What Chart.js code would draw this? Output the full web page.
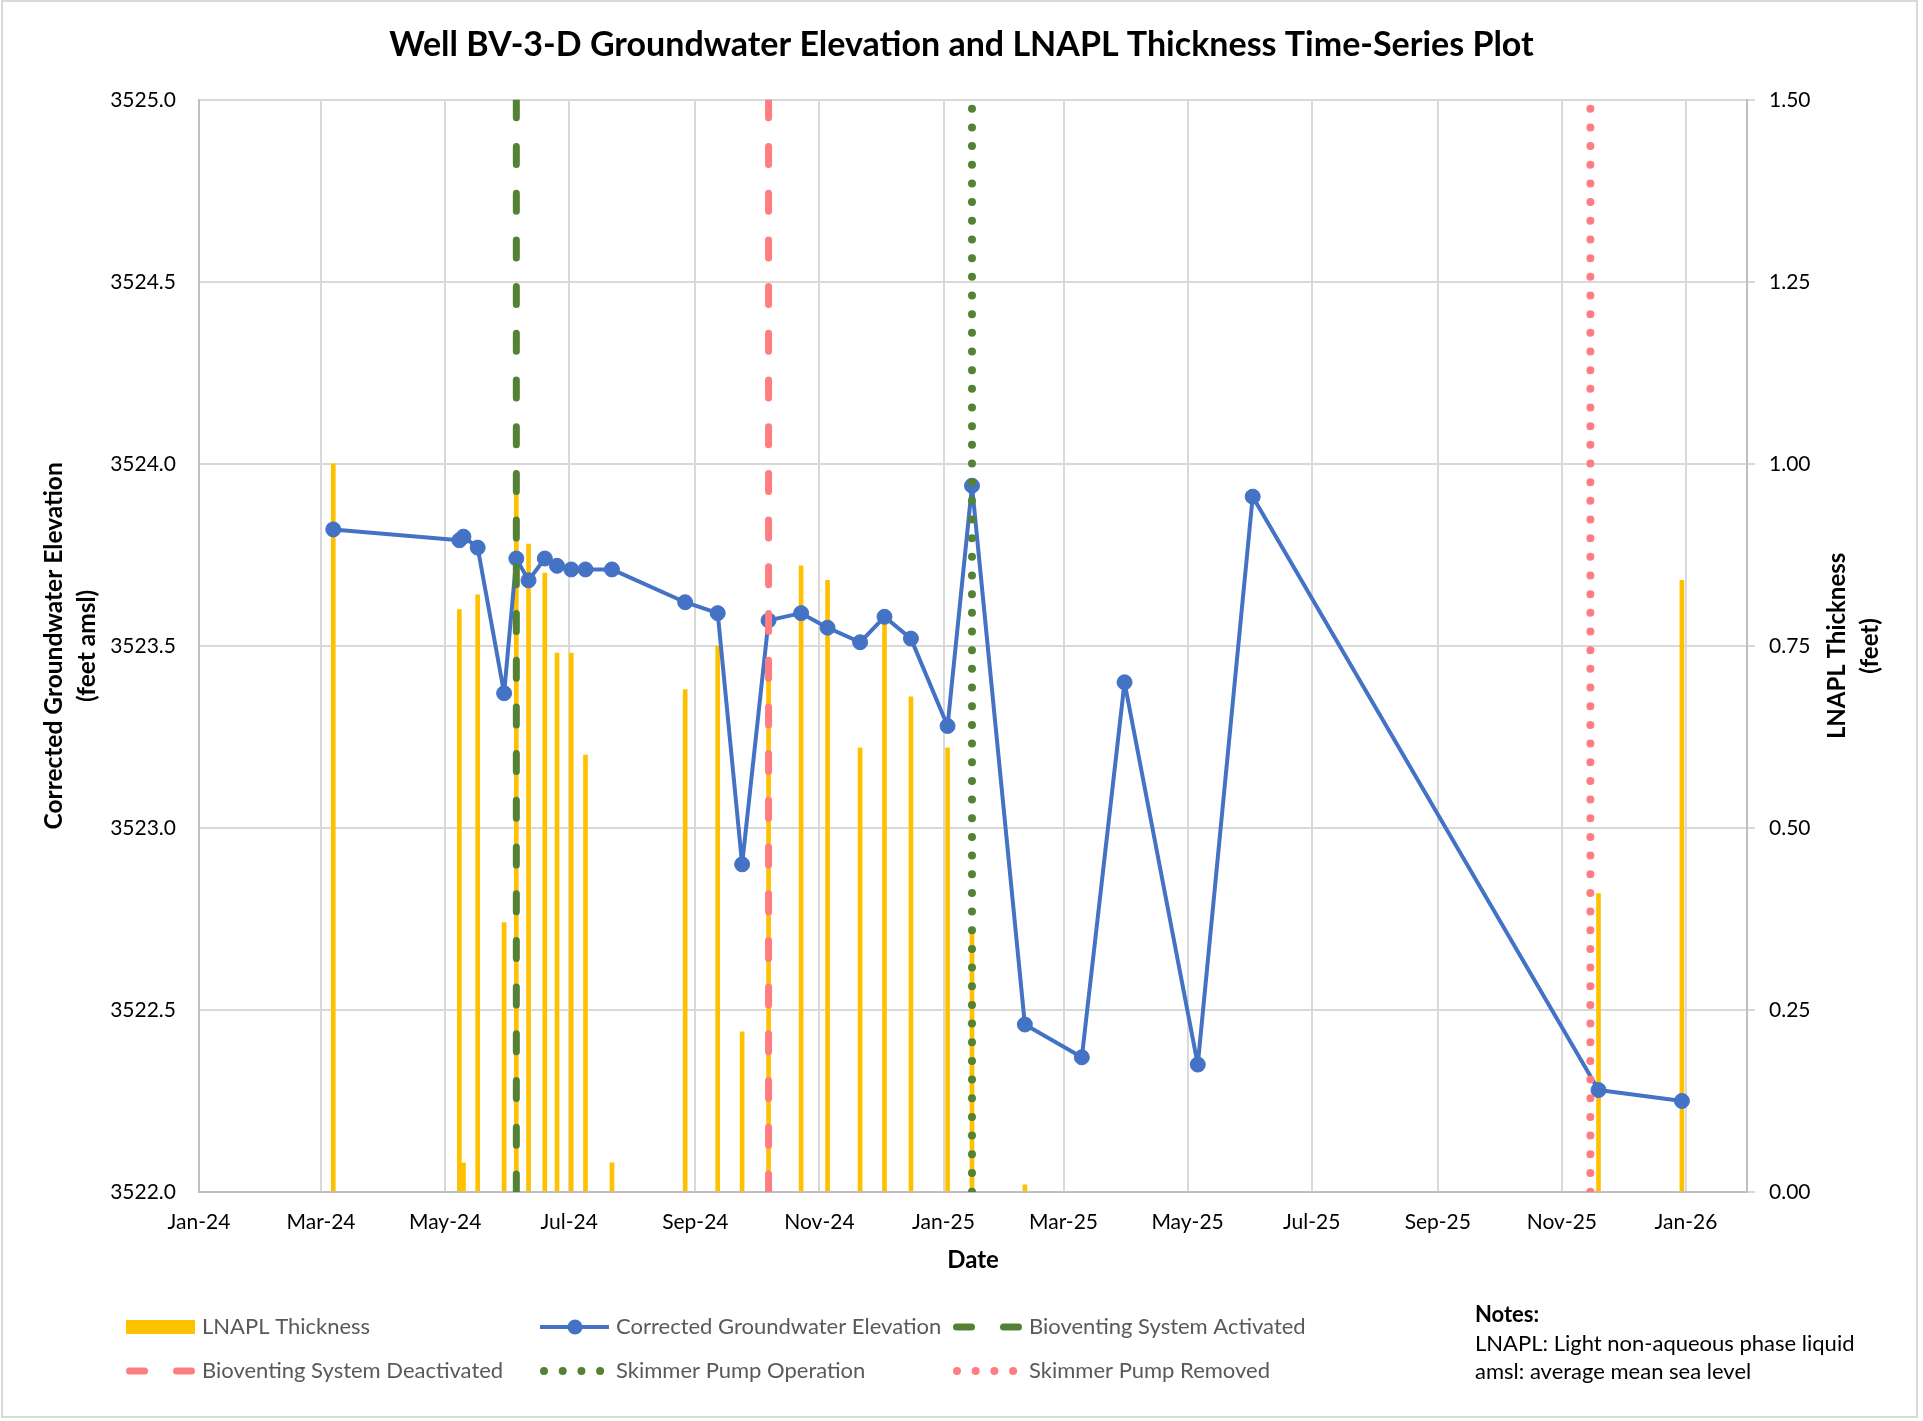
<!DOCTYPE html>
<html>
<head>
<meta charset="utf-8">
<title>Well BV-3-D Groundwater Elevation and LNAPL Thickness</title>
<script src="https://cdn.jsdelivr.net/npm/chart.js@4.4.1/dist/chart.umd.min.js"></script>
<style>
  html, body { margin: 0; padding: 0; background: #fff; }
  #wrap { position: relative; width: 1923px; height: 1421px; }
</style>
</head>
<body>
<div id="wrap"><canvas id="plot"></canvas></div>
<script>
// gauging dates, shared by both series
const sampleDates = [
    '2024-03-07', '2024-05-08', '2024-05-10', '2024-05-17', '2024-05-30',
    '2024-06-05', '2024-06-11', '2024-06-19', '2024-06-25', '2024-07-02',
    '2024-07-09', '2024-07-22', '2024-08-27', '2024-09-12', '2024-09-24',
    '2024-10-07', '2024-10-23', '2024-11-05', '2024-11-21', '2024-12-03',
    '2024-12-16', '2025-01-03', '2025-01-15', '2025-02-10', '2025-03-10',
    '2025-03-31', '2025-05-06', '2025-06-02', '2025-11-19', '2025-12-30'
]

// corrected groundwater elevation (feet amsl)
const gwElevation = [
    3523.82, 3523.79, 3523.80, 3523.77, 3523.37,
    3523.74, 3523.68, 3523.74, 3523.72, 3523.71,
    3523.71, 3523.71, 3523.62, 3523.59, 3522.90,
    3523.57, 3523.59, 3523.55, 3523.51, 3523.58,
    3523.52, 3523.28, 3523.94, 3522.46, 3522.37,
    3523.40, 3522.35, 3523.91, 3522.28, 3522.25
]

// LNAPL thickness (feet), null where no product was gauged
const lnaplThickness = [
    1.00, 0.80, 0.04, 0.82, 0.37,
    0.97, 0.89, 0.85, 0.74, 0.74,
    0.60, 0.04, 0.69, 0.75, 0.22,
    0.72, 0.86, 0.84, 0.61, 0.79,
    0.68, 0.61, 0.36, 0.01, null,
    null, null, null, 0.41, 0.84
]

// system events
const bioventOn = '2024-06-05'
const bioventOff = '2024-10-07'
const skimmerOn = '2025-01-15'
const skimmerOff = '2025-11-15'

// axes
const xMin = '2024-01-01'
const xMax = '2026-01-31'
const xTickDates = [
    '2024-01-01', '2024-03-01', '2024-05-01', '2024-07-01', '2024-09-01', '2024-11-01',
    '2025-01-01', '2025-03-01', '2025-05-01', '2025-07-01', '2025-09-01', '2025-11-01',
    '2026-01-01'
]
const monthAbbr = ['Jan', 'Feb', 'Mar', 'Apr', 'May', 'Jun', 'Jul', 'Aug', 'Sep', 'Oct', 'Nov', 'Dec']
const elevRange = [3522, 3525, 0.5]
const thickRange = [0, 1.5, 0.25]

const notes = ['LNAPL: Light non-aqueous phase liquid', 'amsl: average mean sea level']

const toMs = s => Date.parse(s + 'T00:00:00Z')
const fmtMonth = ms => {
    let d = new Date(ms)
    return monthAbbr[d.getUTCMonth()] + '-' + String(d.getUTCFullYear()).slice(2)
}

const FONT = 'Lato'

function eventLine(label, date, color, dash, dashOffset, width) {
    return {
        type: 'line',
        label: label,
        data: [{ x: toMs(date), y: elevRange[1] }, { x: toMs(date), y: elevRange[0] }],
        yAxisID: 'y',
        borderColor: color,
        backgroundColor: color,
        borderWidth: width,
        borderDash: dash,
        borderDashOffset: dashOffset,
        borderCapStyle: 'round',
        pointRadius: 0,
        pointHoverRadius: 0,
        fill: false,
        order: 1
    }
}

// white page + thin frame
const framePlugin = {
    id: 'frame',
    beforeDraw(chart) {
        let ctx = chart.ctx
        ctx.save()
        ctx.fillStyle = '#fff'
        ctx.fillRect(0, 0, chart.width, chart.height)
        ctx.strokeStyle = '#d9d9d9'
        ctx.lineWidth = 2
        ctx.strokeRect(2, 1, 1915, 1416)
        ctx.restore()
    }
}

// right axis title reads bottom-to-top like the left one
const rightTitlePlugin = {
    id: 'rightTitle',
    afterDraw(chart) {
        let ctx = chart.ctx
        let a = chart.chartArea
        ctx.save()
        ctx.translate(1837, (a.top + a.bottom) / 2)
        ctx.rotate(-Math.PI / 2)
        ctx.font = 'bold 24px ' + FONT
        ctx.fillStyle = '#000'
        ctx.textAlign = 'center'
        ctx.textBaseline = 'middle'
        ctx.fillText('LNAPL Thickness', 0, 0)
        ctx.fillText('(feet)', 0, 33)
        ctx.restore()
    }
}

// three-column legend below the axis, plus the notes block
const legendSlots = [[126, 1327], [540, 1327], [953, 1327], [126, 1371], [540, 1371], [953, 1371]]

const legendPlugin = {
    id: 'gridLegend',
    afterDraw(chart) {
        let ctx = chart.ctx
        chart.data.datasets.forEach((ds, i) => {
            let [x, y] = legendSlots[i]
            ctx.save()
            if (ds.type === 'bar') {
                ctx.fillStyle = ds.backgroundColor
                ctx.fillRect(x, y - 7, 69, 14)
            } else if (ds.pointRadius > 0) {
                ctx.strokeStyle = ds.borderColor
                ctx.lineWidth = ds.borderWidth
                ctx.beginPath()
                ctx.moveTo(x, y)
                ctx.lineTo(x + 69, y)
                ctx.stroke()
                ctx.fillStyle = ds.backgroundColor
                ctx.beginPath()
                ctx.arc(x + 35, y, ds.pointRadius, 0, Math.PI * 2)
                ctx.fill()
            } else {
                ctx.strokeStyle = ds.borderColor
                ctx.lineWidth = ds.borderWidth
                ctx.lineCap = 'round'
                ctx.beginPath()
                if (ds.borderDash[0] === 0) {
                    ctx.setLineDash([0, 18.7])
                    ctx.moveTo(x + 4, y)
                    ctx.lineTo(x + 61, y)
                } else {
                    ctx.setLineDash([15, 32])
                    ctx.moveTo(x + 3.5, y)
                    ctx.lineTo(x + 65.5, y)
                }
                ctx.stroke()
            }
            ctx.setLineDash([])
            ctx.fillStyle = '#595959'
            ctx.font = '22px ' + FONT
            ctx.textAlign = 'left'
            ctx.textBaseline = 'middle'
            ctx.fillText(ds.label, x + 76, y)
            ctx.restore()
        })

        ctx.save()
        ctx.fillStyle = '#000'
        ctx.textAlign = 'left'
        ctx.textBaseline = 'middle'
        ctx.font = 'bold 22px ' + FONT
        ctx.fillText('Notes:', 1475, 1315)
        ctx.font = '22px ' + FONT
        notes.forEach((n, i) => ctx.fillText(n, 1475, 1344 + i * 28))
        ctx.restore()
    }
}

const tickFont = { family: FONT, size: 21 }

let chart = new Chart(document.getElementById('plot').getContext('2d'), {
    type: 'line',
    data: {
        datasets: [
            {
                type: 'bar',
                label: 'LNAPL Thickness',
                data: sampleDates.map((d, i) => ({ x: toMs(d), y: lnaplThickness[i] })),
                yAxisID: 'y2',
                backgroundColor: '#FFC000',
                barThickness: 4,
                order: 3
            },
            {
                type: 'line',
                label: 'Corrected Groundwater Elevation',
                data: sampleDates.map((d, i) => ({ x: toMs(d), y: gwElevation[i] })),
                yAxisID: 'y',
                borderColor: '#4472C4',
                backgroundColor: '#4472C4',
                borderWidth: 4,
                borderJoinStyle: 'round',
                pointRadius: 7.5,
                pointHoverRadius: 7.5,
                pointBorderWidth: 1,
                tension: 0,
                order: 2
            },
            eventLine('Bioventing System Activated', bioventOn, '#548235', [18, 28.7], 0, 7),
            eventLine('Bioventing System Deactivated', bioventOff, '#FF7C80', [18, 28.7], 0, 7),
            eventLine('Skimmer Pump Operation', skimmerOn, '#548235', [0, 18.67], 9.7, 8),
            eventLine('Skimmer Pump Removed', skimmerOff, '#FF7C80', [0, 18.67], 9.7, 8)
        ]
    },
    options: {
        responsive: true,
        maintainAspectRatio: false,
        animation: false,
        layout: { padding: { left: 0, right: 0, top: 0, bottom: 130 } },
        plugins: {
            legend: { display: false },
            tooltip: { enabled: false },
            title: {
                display: true,
                text: 'Well BV-3-D Groundwater Elevation and LNAPL Thickness Time-Series Plot',
                color: '#000',
                font: { family: FONT, size: 34, weight: 'bold' },
                padding: { top: 25, bottom: 34 }
            }
        },
        scales: {
            x: {
                type: 'linear',
                min: toMs(xMin),
                max: toMs(xMax),
                offset: false,
                afterBuildTicks: s => { s.ticks = xTickDates.map(d => ({ value: toMs(d) })) },
                afterFit: s => { s.height = 99 },
                ticks: {
                    callback: v => fmtMonth(v),
                    font: tickFont,
                    color: '#000',
                    padding: 18,
                    maxRotation: 0,
                    autoSkip: false
                },
                grid: { color: '#d9d9d9', lineWidth: 2, drawTicks: false, offset: false },
                border: { color: '#bfbfbf', width: 2 },
                title: {
                    display: true,
                    text: 'Date',
                    color: '#000',
                    font: { family: FONT, size: 24, weight: 'bold' },
                    padding: { top: 0, bottom: 16 }
                }
            },
            y: {
                position: 'left',
                min: elevRange[0],
                max: elevRange[1],
                afterFit: s => { s.width = 199 },
                ticks: {
                    stepSize: elevRange[2],
                    callback: v => v.toFixed(1),
                    font: tickFont,
                    color: '#000',
                    padding: 23
                },
                grid: { color: '#d9d9d9', lineWidth: 2, drawTicks: false },
                border: { color: '#bfbfbf', width: 2 },
                title: {
                    display: true,
                    text: ['Corrected Groundwater Elevation', '(feet amsl)'],
                    color: '#000',
                    font: { family: FONT, size: 24.5, weight: 'bold', lineHeight: 33 / 24.5 },
                    padding: { top: 38, bottom: 0 }
                }
            },
            y2: {
                position: 'right',
                min: thickRange[0],
                max: thickRange[1],
                afterFit: s => { s.width = 176 },
                ticks: {
                    stepSize: thickRange[2],
                    callback: v => v.toFixed(2),
                    font: tickFont,
                    color: '#000',
                    padding: 14
                },
                grid: { drawOnChartArea: false, drawTicks: true, tickLength: 8, color: '#d9d9d9', lineWidth: 2 },
                border: { color: '#bfbfbf', width: 2 }
            }
        }
    },
    plugins: [framePlugin, rightTitlePlugin, legendPlugin]
})
</script>
</body>
</html>
